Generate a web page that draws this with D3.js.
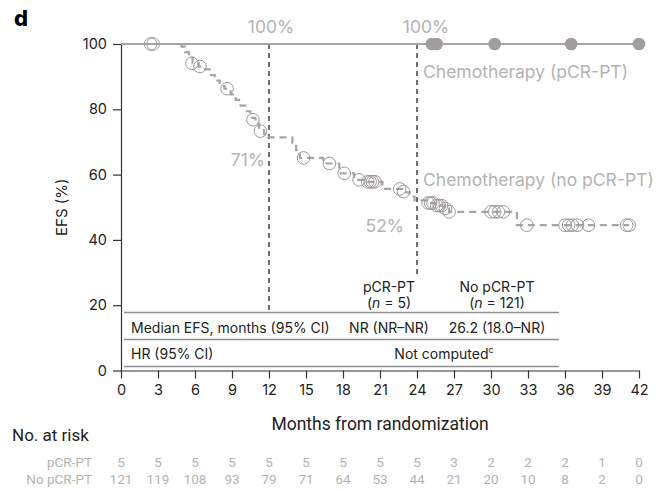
<!DOCTYPE html>
<html>
<head>
<meta charset="utf-8">
<script src="https://cdn.jsdelivr.net/npm/d3@7"></script>
<style>
  html, body { margin: 0; padding: 0; background: #fff; }
  svg { display: block; }
  text { font-family: Inter, "Noto Sans", sans-serif; }
  .cond { font-family: Roboto, sans-serif; }
</style>
</head>
<body>
<svg id="chart" width="662" height="492"></svg>
<script>
// Months shown on the x axis and the number-at-risk table
const monthTicks = [0, 3, 6, 9, 12, 15, 18, 21, 24, 27, 30, 33, 36, 39, 42];
const efsTicks = [0, 20, 40, 60, 80, 100];
const riskPCR = [5, 5, 5, 5, 5, 5, 5, 5, 5, 3, 2, 2, 2, 1, 0];
const riskNoPCR = [121, 119, 108, 93, 79, 71, 64, 53, 44, 21, 20, 10, 8, 2, 0];

// pCR-PT: no events, censored patients only
const pcrCurve = [[0, 100], [42, 100]];
const pcrCensor = [25.2, 25.6, 30.3, 36.5, 42.0];

// No pCR-PT: Kaplan–Meier step points [month, EFS %]
const noPcrSteps = [
  [0, 100], [4.9, 99.2], [5.2, 97.5], [5.5, 95.8], [5.8, 94.1], [6.3, 93.1],
  [6.8, 92.2], [7.2, 90.5], [7.6, 88.8], [8.0, 87.1], [8.4, 86.3], [8.9, 84.6],
  [9.3, 82.9], [9.7, 81.1], [10.1, 79.4], [10.5, 77.4], [10.9, 75.6], [11.2, 73.6],
  [11.6, 72.4], [11.9, 71.4], [13.9, 69.6], [14.2, 67.5], [14.5, 65.1],
  [16.4, 63.4], [17.7, 60.4], [18.9, 58.4], [19.7, 57.8], [21.2, 55.6],
  [22.8, 54.6], [23.4, 53.3], [23.8, 52.1], [24.8, 51.3], [25.5, 50.5],
  [26.2, 49.6], [26.6, 48.6], [32.1, 44.5], [41.2, 44.5]
];
// No pCR-PT: censored patients [month, EFS %]
const noPcrCensor = [
  [2.4, 100], [2.6, 100], [5.75, 94.1], [6.4, 93.1], [8.6, 86.3], [10.7, 76.8],
  [11.3, 73.3], [14.8, 65.1], [16.9, 63.4], [18.1, 60.4], [19.3, 58.4],
  [20.0, 57.8], [20.2, 57.8], [20.4, 57.8], [20.6, 57.8], [22.6, 55.6], [22.9, 54.8],
  [24.9, 51.3], [25.1, 51.3], [25.3, 51.3], [25.6, 50.5], [25.8, 50.5],
  [26.0, 50.5], [26.3, 49.6], [26.6, 48.6], [30.0, 48.6], [30.3, 48.6],
  [30.6, 48.6], [31.0, 48.6], [32.9, 44.5], [36.0, 44.5], [36.3, 44.5],
  [36.6, 44.5], [37.0, 44.5], [37.9, 44.5], [41.0, 44.5], [41.2, 44.5]
];

// Landmark EFS at 12 and 24 months
const landmarkMonths = [12, 24];
const landmarkPCR = ["100%", "100%"];
const landmarkNoPCR = ["71%", "52%"];
const landmarkNoPCRValue = [71.4, 52.1];

// Summary table
const tableGroups = ["pCR-PT", "No pCR-PT"];
const tableN = ["5", "121"];
const medianEFS = ["NR (NR\u2013NR)", "26.2 (18.0\u2013NR)"];

const svg = d3.select("#chart");
const grey = "#a8a4a4";
const labelGrey = "#b3b3b3";
const ink = "#222";

const x = d3.scaleLinear().domain([0, 42]).range([121, 639]);
const y = d3.scaleLinear().domain([0, 100]).range([370.5, 44]);

// Panel letter
svg.append("text").attr("x", 14).attr("y", 26)
  .attr("font-size", 22).attr("font-weight", 800).attr("fill", "#000")
  .text("d");

// Axes
const xAxis = svg.append("g").attr("transform", `translate(0,${y(0)})`)
  .call(d3.axisBottom(x).tickValues(monthTicks).tickSize(8).tickSizeOuter(0).tickPadding(6));
const yAxis = svg.append("g").attr("transform", `translate(${x(0)},0)`)
  .call(d3.axisLeft(y).tickValues(efsTicks).tickSize(8).tickSizeOuter(0).tickPadding(6));
[xAxis, yAxis].forEach(g => {
  g.selectAll("path, line").attr("stroke", "#333").attr("stroke-width", 1.2);
  g.selectAll("text").attr("font-size", 14.5).attr("fill", ink)
    .attr("font-family", "Inter, sans-serif");
});

svg.append("text")
  .attr("transform", `translate(67,${y(50)}) rotate(-90)`)
  .attr("text-anchor", "middle").attr("font-size", 15).attr("fill", ink)
  .text("EFS (%)");

svg.append("text").attr("class", "cond")
  .attr("x", 380).attr("y", 430).attr("text-anchor", "middle")
  .attr("font-size", 17.5).attr("fill", ink)
  .text("Months from randomization");

// Landmark reference lines
landmarkMonths.forEach((m, i) => {
  svg.append("line")
    .attr("x1", x(m)).attr("x2", x(m))
    .attr("y1", y(100)).attr("y2", i === 0 ? 312.5 : 276)
    .attr("stroke", "#222").attr("stroke-width", 1.3)
    .attr("stroke-dasharray", "5,4");
});

// pCR-PT curve
svg.append("path")
  .datum(pcrCurve)
  .attr("fill", "none").attr("stroke", grey).attr("stroke-width", 2)
  .attr("d", d3.line().x(d => x(d[0])).y(d => y(d[1])).curve(d3.curveStepAfter));

// No pCR-PT curve
svg.append("path")
  .datum(noPcrSteps)
  .attr("fill", "none").attr("stroke", grey).attr("stroke-width", 2.2)
  .attr("stroke-dasharray", "7,5")
  .attr("d", d3.line().x(d => x(d[0])).y(d => y(d[1])).curve(d3.curveStepAfter));

svg.append("g").selectAll("circle")
  .data(noPcrCensor).join("circle")
  .attr("cx", d => x(d[0])).attr("cy", d => y(d[1])).attr("r", 6.3)
  .attr("fill", "none").attr("stroke", "#9d9898").attr("stroke-width", 1);

svg.append("g").selectAll("circle")
  .data(pcrCensor).join("circle")
  .attr("cx", d => x(d)).attr("cy", y(100)).attr("r", 6.3)
  .attr("fill", "#a29d9d");

// Landmark values
landmarkMonths.forEach((m, i) => {
  svg.append("text")
    .attr("x", x(m) + (i === 0 ? 2 : 9)).attr("y", 33)
    .attr("text-anchor", "middle").attr("font-size", 17.5).attr("fill", labelGrey)
    .text(landmarkPCR[i]);
  svg.append("text")
    .attr("x", x(m) - (i === 0 ? 4 : 13)).attr("y", y(landmarkNoPCRValue[i]) + (i === 0 ? 29 : 32))
    .attr("text-anchor", "end").attr("font-size", 17.5).attr("fill", labelGrey)
    .text(landmarkNoPCR[i]);
});

// Curve labels
svg.append("text").attr("x", 423).attr("y", 78)
  .attr("font-size", 17.5).attr("fill", labelGrey).text("Chemotherapy (pCR-PT)");
svg.append("text").attr("x", 423).attr("y", 186)
  .attr("font-size", 17.5).attr("fill", labelGrey).text("Chemotherapy (no pCR-PT)");

// Summary table inside the plot
const colX = [389, 497];
[312.5, 339.5, 366.5].forEach(ly => {
  svg.append("line").attr("x1", 124).attr("x2", 559).attr("y1", ly).attr("y2", ly)
    .attr("stroke", "#8f8f8f").attr("stroke-width", 1.6);
});
tableGroups.forEach((g, i) => {
  svg.append("text").attr("x", colX[i]).attr("y", 292).attr("text-anchor", "middle")
    .attr("font-size", 14).attr("fill", ink).text(g);
  const t = svg.append("text").attr("x", colX[i]).attr("y", 308).attr("text-anchor", "middle")
    .attr("font-size", 14).attr("fill", ink);
  t.append("tspan").text("(");
  t.append("tspan").attr("font-style", "italic").text("n");
  t.append("tspan").text(" = " + tableN[i] + ")");
  svg.append("text").attr("x", colX[i]).attr("y", 332.5).attr("text-anchor", "middle")
    .attr("font-size", 14).attr("fill", ink).text(medianEFS[i]);
});
svg.append("text").attr("x", 131).attr("y", 332.5)
  .attr("font-size", 14).attr("fill", ink).text("Median EFS, months (95% CI)");
svg.append("text").attr("x", 131).attr("y", 358.5)
  .attr("font-size", 14).attr("fill", ink).text("HR (95% CI)");
const nc = svg.append("text").attr("x", 444).attr("y", 358.5).attr("text-anchor", "middle")
  .attr("font-size", 14).attr("fill", ink);
nc.append("tspan").text("Not computed");
nc.append("tspan").attr("font-size", 9).attr("dy", -6).text("c");

// Number at risk
svg.append("text").attr("class", "cond").attr("x", 12).attr("y", 441)
  .attr("font-size", 17).attr("fill", ink).text("No. at risk");
const riskRows = [["pCR-PT", riskPCR, 467], ["No pCR-PT", riskNoPCR, 484]];
riskRows.forEach(([label, vals, ry]) => {
  svg.append("text").attr("class", "cond").attr("x", 92).attr("y", ry)
    .attr("text-anchor", "end").attr("font-size", 13.5).attr("fill", labelGrey).text(label);
  svg.append("g").selectAll("text").data(vals).join("text")
    .attr("class", "cond")
    .attr("x", (d, i) => x(monthTicks[i])).attr("y", ry)
    .attr("text-anchor", "middle").attr("font-size", 13.5).attr("fill", labelGrey)
    .text(d => d);
});
</script>
</body>
</html>
